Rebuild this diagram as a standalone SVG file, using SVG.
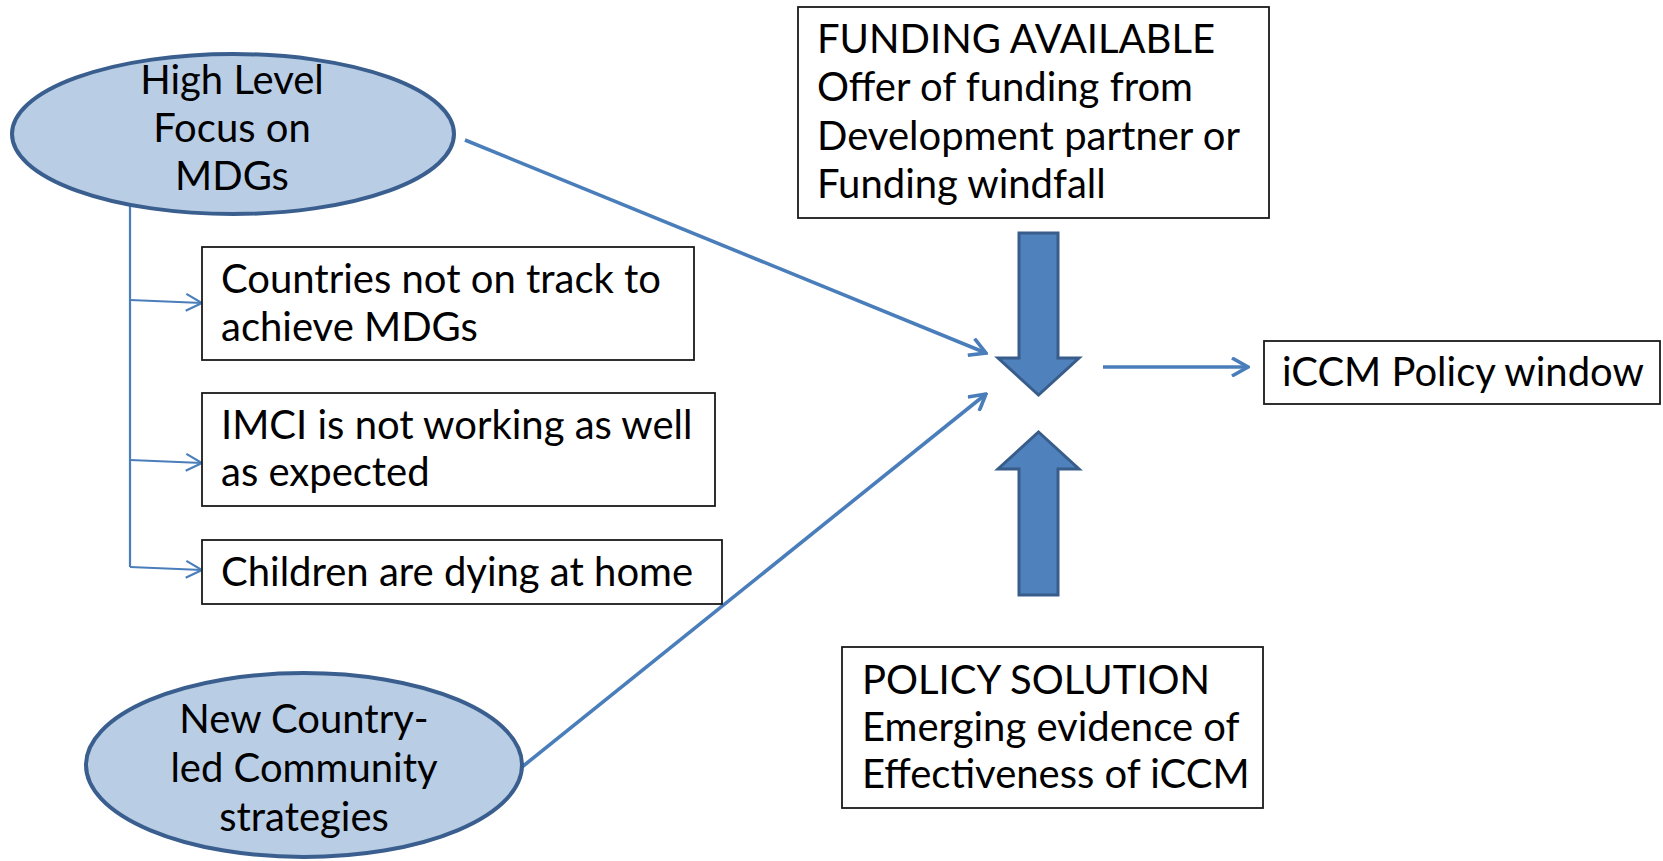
<svg xmlns="http://www.w3.org/2000/svg" width="1663" height="861" viewBox="0 0 1663 861">
  <style>
    .ell { fill: #B9CDE5; stroke: #3A5F8F; stroke-width: 4; }
    .box { fill: #FFFFFF; stroke: #1A1A1A; stroke-width: 1.8; }
    .txt { font-family: Lato, "Liberation Sans", sans-serif; font-size: 40px; fill: #000000; }
    .mid { text-anchor: middle; }
    .conn { fill: none; stroke: #4A7EBB; stroke-width: 3.6; }
    .thin { fill: none; stroke: #4A7EBB; stroke-width: 2.2; }
    .block { fill: #4F81BD; stroke: #385D8A; stroke-width: 3; }
  </style>
  <defs>
    <!-- open chevron heads: one for the heavy connectors, one for the branch lines -->
    <marker id="headHeavy" viewBox="0 0 20 20" refX="18" refY="10" markerWidth="20" markerHeight="20" orient="auto" markerUnits="userSpaceOnUse">
      <path d="M2,1 L18,10 L2,19" fill="none" stroke="#4A7EBB" stroke-width="3.6" stroke-linejoin="miter"/>
    </marker>
    <marker id="headThin" viewBox="0 0 20 20" refX="18" refY="10" markerWidth="20" markerHeight="20" orient="auto" markerUnits="userSpaceOnUse">
      <path d="M2,1.5 L18,10 L2,18.5" fill="none" stroke="#4A7EBB" stroke-width="2.2"/>
    </marker>
  </defs>

  <rect width="1663" height="861" fill="#FFFFFF"/>

  <!-- connectors -->
  <g id="connectors">
    <path class="thin" d="M130,205 L130,567"/>
    <path class="thin" d="M130,300 L202,303" marker-end="url(#headThin)"/>
    <path class="thin" d="M130,460 L202,463" marker-end="url(#headThin)"/>
    <path class="thin" d="M130,567 L202,570" marker-end="url(#headThin)"/>
    <path class="conn" d="M465,140 L986,353" marker-end="url(#headHeavy)"/>
    <path class="conn" d="M522,767 L986,394" marker-end="url(#headHeavy)"/>
    <path class="conn" d="M1103,367 L1248,367" marker-end="url(#headHeavy)"/>
  </g>

  <!-- ellipse: high level focus -->
  <g id="node-mdg-focus">
    <ellipse class="ell" cx="233" cy="134" rx="221" ry="80"/>
    <text class="txt mid" x="232" y="94">High Level</text>
    <text class="txt mid" x="232" y="142">Focus on</text>
    <text class="txt mid" x="232" y="190">MDGs</text>
  </g>

  <g id="node-not-on-track">
    <rect class="box" x="202" y="247" width="492" height="113"/>
    <text class="txt" x="221" y="293">Countries not on track to</text>
    <text class="txt" x="221" y="341">achieve MDGs</text>
  </g>

  <g id="node-imci">
    <rect class="box" x="202" y="393" width="513" height="113"/>
    <text class="txt" x="221" y="439">IMCI is not working as well</text>
    <text class="txt" x="221" y="486">as expected</text>
  </g>

  <g id="node-children">
    <rect class="box" x="202" y="540" width="520" height="64"/>
    <text class="txt" x="221" y="586">Children are dying at home</text>
  </g>

  <!-- ellipse: community strategies -->
  <g id="node-community">
    <ellipse class="ell" cx="304" cy="765" rx="218" ry="92"/>
    <text class="txt mid" x="304" y="733">New Country-</text>
    <text class="txt mid" x="304" y="782">led Community</text>
    <text class="txt mid" x="304" y="831">strategies</text>
  </g>

  <g id="node-funding">
    <rect class="box" x="798" y="7" width="471" height="211"/>
    <text class="txt" x="817" y="53">FUNDING AVAILABLE</text>
    <text class="txt" x="817" y="101">Offer of funding from</text>
    <text class="txt" x="817" y="150">Development partner or</text>
    <text class="txt" x="817" y="198">Funding windfall</text>
  </g>

  <!-- block arrows converging -->
  <g id="node-block-down">
    <path class="block" d="M1019,233 L1058,233 L1058,358 L1079,358 L1038.5,395 L998,358 L1019,358 Z"/>
  </g>
  <g id="node-block-up">
    <path class="block" d="M1019,595 L1058,595 L1058,469 L1079,469 L1038.5,432 L998,469 L1019,469 Z"/>
  </g>

  <g id="node-policy-window">
    <rect class="box" x="1264" y="341" width="396" height="63"/>
    <text class="txt" x="1282" y="386">iCCM Policy window</text>
  </g>

  <g id="node-policy-solution">
    <rect class="box" x="842" y="647" width="421" height="161"/>
    <text class="txt" x="862" y="694">POLICY SOLUTION</text>
    <text class="txt" x="862" y="741">Emerging evidence of</text>
    <text class="txt" x="862" y="788">Effectiveness of iCCM</text>
  </g>
</svg>
